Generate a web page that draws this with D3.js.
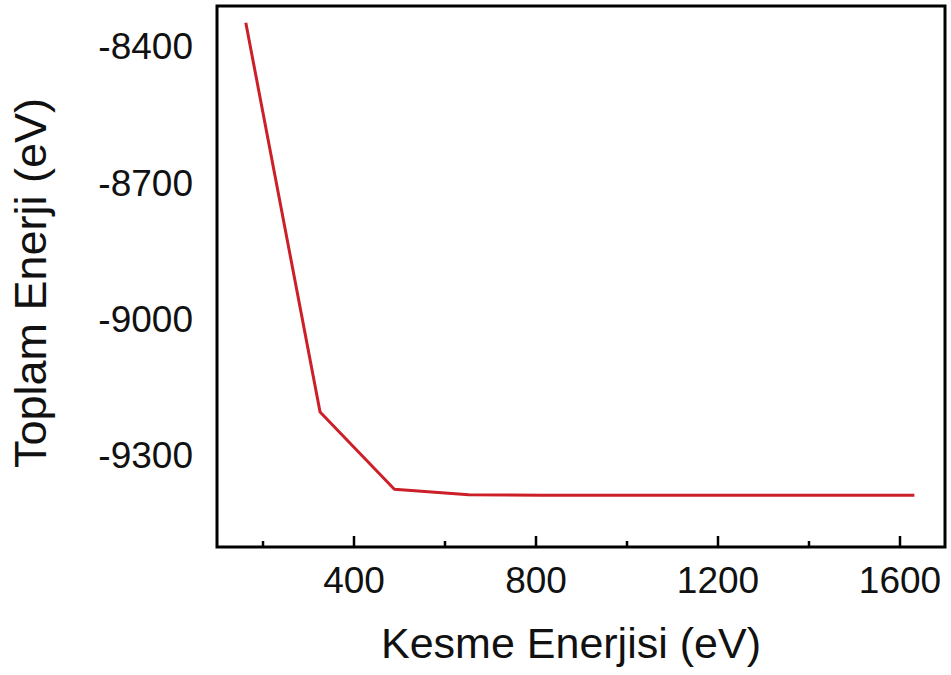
<!DOCTYPE html>
<html>
<head>
<meta charset="utf-8">
<script src="https://cdn.jsdelivr.net/npm/d3@7"></script>
<style>
  html, body { margin: 0; padding: 0; background: #fff; }
  svg { display: block; font-family: Arial, "Liberation Sans", sans-serif; }
</style>
</head>
<body>
<svg id="chart" width="951" height="675"></svg>
<script>
// Cutoff energies (eV) and the total energy computed at each cutoff
const cutoffEnergies = [163.3, 326.5, 489.8, 653.1, 816.3, 979.6, 1142.9, 1306.1, 1469.4, 1632.7];
const totalEnergies  = [-8347, -9203, -9373, -9385, -9386, -9386, -9386, -9386, -9386, -9386];

const xMajorTicks = [400, 800, 1200, 1600];
const xMinorTicks = [200, 600, 1000, 1400];
const yTicks = [-8400, -8700, -9000, -9300];

const xTitle = "Kesme Enerjisi (eV)";
const yTitle = "Toplam Enerji (eV)";

const margin = { left: 217, right: 6, top: 6, bottom: 128 };
const W = 951, H = 675;

const svg = d3.select("#chart");

const x = d3.scaleLinear().domain([100, 1700]).range([margin.left, W - margin.right]);
const y = d3.scaleLinear().domain([-9500, -8310]).range([H - margin.bottom, margin.top]);

const plotBottom = H - margin.bottom;
const plainNumber = d => String(d); // hyphen-minus, no thousands separator

// x axis: major ticks with labels, pointing inward
const xAxis = svg.append("g")
  .attr("transform", `translate(0,${plotBottom})`)
  .call(d3.axisBottom(x).tickValues(xMajorTicks).tickSizeInner(-11).tickSizeOuter(0).tickFormat(plainNumber));
xAxis.select(".domain").remove();
xAxis.selectAll(".tick line").attr("stroke", "#000").attr("stroke-width", 2.5);
xAxis.selectAll(".tick text")
  .attr("fill", "#111").attr("font-size", 37).attr("dy", "0.71em").attr("y", 20);

// minor ticks
const xMinor = svg.append("g")
  .attr("transform", `translate(0,${plotBottom})`)
  .call(d3.axisBottom(x).tickValues(xMinorTicks).tickSizeInner(-6).tickSizeOuter(0).tickFormat(""));
xMinor.select(".domain").remove();
xMinor.selectAll(".tick line").attr("stroke", "#000").attr("stroke-width", 2.5);

// y axis: labels only
const yAxis = svg.append("g")
  .attr("transform", `translate(${margin.left},0)`)
  .call(d3.axisLeft(y).tickValues(yTicks).tickSize(0).tickPadding(24).tickFormat(plainNumber));
yAxis.select(".domain").remove();
yAxis.selectAll(".tick text").attr("fill", "#111").attr("font-size", 37);

// data line
const line = d3.line()
  .x((d, i) => x(cutoffEnergies[i]))
  .y(d => y(d));

svg.append("path")
  .datum(totalEnergies)
  .attr("fill", "none")
  .attr("stroke", "#cc1f27")
  .attr("stroke-width", 3)
  .attr("stroke-linejoin", "round")
  .attr("d", line);

// frame
svg.append("rect")
  .attr("x", margin.left)
  .attr("y", margin.top)
  .attr("width", W - margin.left - margin.right)
  .attr("height", plotBottom - margin.top)
  .attr("fill", "none")
  .attr("stroke", "#000")
  .attr("stroke-width", 3);

// axis titles
svg.append("text")
  .attr("x", 571)
  .attr("y", 658)
  .attr("text-anchor", "middle")
  .attr("font-size", 43)
  .attr("fill", "#111")
  .text(xTitle);

svg.append("text")
  .attr("transform", `translate(46,283) rotate(-90)`)
  .attr("text-anchor", "middle")
  .attr("font-size", 45)
  .attr("fill", "#111")
  .text(yTitle);
</script>
</body>
</html>
